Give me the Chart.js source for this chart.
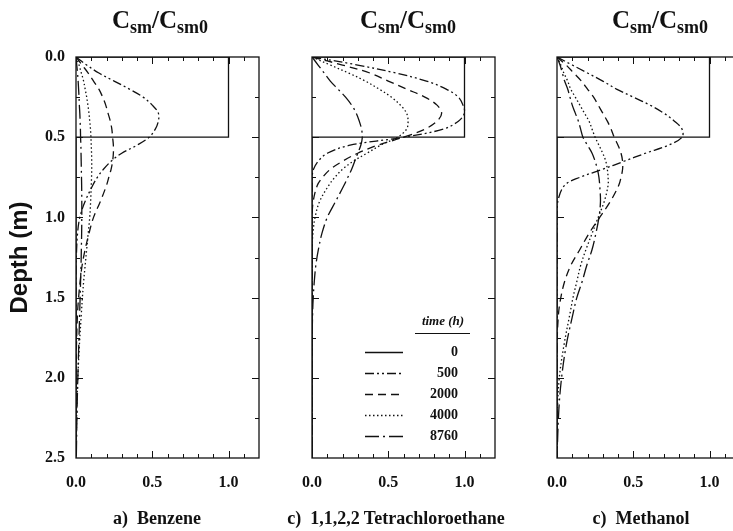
<!DOCTYPE html>
<html>
<head>
<meta charset="utf-8">
<script src="https://cdn.jsdelivr.net/npm/chart.js@4.4.1/dist/chart.umd.min.js"></script>
<style>
  html, body { margin: 0; padding: 0; background: #fff; }
  body { position: relative; width: 733px; height: 531px; overflow: hidden; }
  canvas.panel { position: absolute; top: 0; }
  .ttl { position: absolute; top: 6px; transform: translateX(-50%); white-space: nowrap;
         font: bold 25px "Liberation Serif", serif; color: #111; line-height: 28px; }
  .ttl sub { font-size: 18px; vertical-align: -5px; line-height: 0; }
  .cap { position: absolute; top: 508px; transform: translateX(-50%); white-space: pre;
         font: bold 18px "Liberation Serif", serif; color: #111; line-height: 20px; }
</style>
</head>
<body>
<canvas id="p0" class="panel"></canvas>
<canvas id="p1" class="panel"></canvas>
<canvas id="p2" class="panel"></canvas>

<div class="ttl" style="left:160px">C<sub>sm</sub>/C<sub>sm0</sub></div>
<div class="ttl" style="left:408px">C<sub>sm</sub>/C<sub>sm0</sub></div>
<div class="ttl" style="left:660px">C<sub>sm</sub>/C<sub>sm0</sub></div>
<div class="cap" id="cap0" style="left:157px"></div>
<div class="cap" id="cap1" style="left:396px"></div>
<div class="cap" id="cap2" style="left:641px"></div>

<script>
// depth below surface (m), shared by all profiles
const depth = [0, 0.05, 0.1, 0.15, 0.2, 0.25, 0.3, 0.35, 0.4, 0.45, 0.5, 0.55, 0.6, 0.65, 0.7, 0.75,
               0.8, 0.9, 1.0, 1.1, 1.2, 1.3, 1.4, 1.5, 1.6, 1.8, 2.0, 2.2, 2.5];

// initial condition (t = 0): uniform in the top 0.5 m
const stepC = [0, 1, 1, 0, 0];
const stepD = [0, 0, 0.5, 0.5, 2.5];

const timeLabels = ['0', '500', '2000', '4000', '8760'];

// Csm/Csm0 profiles - benzene
const bz500  = [0, .07, .15, .25, .35, .44, .5, .54, .54, .52, .48, .4, .3, .23, .18, .14, .11, .06, .025, .01, .004, 0, 0, 0, 0, 0, 0, 0, 0];
const bz2000 = [0, .04, .08, .115, .15, .175, .195, .21, .225, .235, .24, .245, .245, .24, .23, .215, .2, .16, .115, .085, .06, .04, .027, .017, .01, .003, 0, 0, 0];
const bz4000 = [0, .02, .035, .05, .06, .07, .078, .085, .09, .095, .098, .1, .102, .103, .103, .102, .1, .096, .09, .08, .07, .06, .05, .042, .035, .022, .012, .005, .001];
const bz8760 = [0, .005, .01, .014, .017, .02, .022, .025, .027, .029, .03, .032, .033, .034, .035, .036, .037, .038, .038, .037, .035, .033, .03, .027, .024, .018, .012, .007, .002];

// 1,1,2,2 tetrachloroethane
const tc500  = [0, .3, .55, .75, .88, .96, .99, 1.0, .96, .86, .6, .25, .1, .04, .01, 0, 0, 0, 0, 0, 0, 0, 0, 0, 0, 0, 0, 0, 0];
const tc2000 = [0, .2, .38, .5, .62, .74, .82, .85, .82, .74, .6, .43, .3, .2, .12, .07, .035, .008, 0, 0, 0, 0, 0, 0, 0, 0, 0, 0, 0];
const tc4000 = [0, .12, .24, .35, .44, .52, .58, .62, .63, .62, .56, .45, .36, .27, .2, .15, .11, .05, .02, .006, 0, 0, 0, 0, 0, 0, 0, 0, 0];
const tc8760 = [0, .04, .08, .12, .17, .22, .26, .29, .31, .325, .33, .32, .3, .28, .26, .235, .21, .155, .1, .065, .042, .025, .015, .008, .004, 0, 0, 0, 0];

// methanol
const me500  = [0, .1, .2, .3, .39, .5, .61, .7, .77, .82, .82, .73, .58, .44, .3, .15, .05, .005, 0, 0, 0, 0, 0, 0, 0, 0, 0, 0, 0];
const me2000 = [0, .06, .11, .16, .2, .24, .27, .3, .33, .355, .375, .4, .42, .43, .43, .42, .405, .35, .28, .21, .15, .09, .05, .025, .01, 0, 0, 0, 0];
const me4000 = [0, .025, .045, .07, .09, .12, .15, .18, .21, .23, .25, .275, .3, .32, .33, .335, .335, .31, .27, .23, .19, .155, .13, .105, .085, .045, .015, .003, 0];
const me8760 = [0, .02, .035, .05, .07, .085, .1, .12, .14, .155, .17, .2, .23, .25, .265, .275, .28, .285, .275, .255, .23, .195, .165, .13, .105, .06, .03, .012, 0];

const xTicks = [0, 0.5, 1.0];
const yTicks = [0, 0.5, 1.0, 1.5, 2.0, 2.5];
const captions = ['a)  Benzene', 'c)  1,1,2,2 Tetrachloroethane', 'c)  Methanol'];

const dashes = [[], [9, 3, 2, 3, 2, 3], [8, 5], [1.5, 2.5], [14, 4, 2, 4]];
const INK = '#111';
const serif = 'Liberation Serif';

function buildSets(curves) {
  return timeLabels.map((lab, i) => ({
    label: lab,
    data: i === 0
      ? stepC.map((c, k) => ({ x: c, y: stepD[k] }))
      : depth.map((d, k) => ({ x: curves[i - 1][k], y: d })),
    showLine: true,
    borderColor: INK,
    borderWidth: 1.3,
    borderDash: dashes[i],
    tension: i === 0 ? 0 : 0.35,
    pointRadius: 0,
    fill: false,
  }));
}

// box around the plot with inward ticks on all four sides
const frame = {
  id: 'frame',
  afterDatasetsDraw(chart) {
    const { ctx, chartArea: a, scales: { x, y } } = chart;
    ctx.save();
    ctx.strokeStyle = INK;
    ctx.lineWidth = 1.3;
    ctx.strokeRect(a.left, a.top, a.right - a.left, a.bottom - a.top);
    ctx.lineWidth = 1;
    ctx.beginPath();
    for (let i = 1; i < 12; i++) {
      const px = Math.round(x.getPixelForValue(i / 10)) + 0.5;
      const len = i % 5 === 0 ? 7 : 4;
      ctx.moveTo(px, a.bottom); ctx.lineTo(px, a.bottom - len);
      ctx.moveTo(px, a.top); ctx.lineTo(px, a.top + len);
    }
    for (let i = 1; i < 10; i++) {
      const py = Math.round(y.getPixelForValue(i * 0.25)) + 0.5;
      const len = i % 2 === 0 ? 7 : 4;
      ctx.moveTo(a.left, py); ctx.lineTo(a.left + len, py);
      ctx.moveTo(a.right, py); ctx.lineTo(a.right - len, py);
    }
    ctx.stroke();
    ctx.restore();
  },
};

// key for the time steps, drawn inside the middle panel
const timeKey = {
  id: 'timeKey',
  afterDraw(chart) {
    const { ctx, chartArea: a } = chart;
    ctx.save();
    ctx.fillStyle = INK;
    ctx.strokeStyle = INK;
    ctx.textBaseline = 'middle';
    ctx.font = `italic bold 13px "${serif}"`;
    ctx.textAlign = 'center';
    ctx.fillText('time (h)', a.left + 131, a.top + 265);
    ctx.lineWidth = 1;
    ctx.beginPath();
    ctx.moveTo(a.left + 103, a.top + 276.5);
    ctx.lineTo(a.left + 158, a.top + 276.5);
    ctx.stroke();

    ctx.font = `bold 14px "${serif}"`;
    ctx.textAlign = 'right';
    chart.data.datasets.forEach((ds, i) => {
      const yy = a.top + 295 + i * 21;
      ctx.lineWidth = ds.borderWidth;
      ctx.setLineDash(ds.borderDash);
      ctx.beginPath();
      ctx.moveTo(a.left + 53, yy + 0.5);
      ctx.lineTo(a.left + 91, yy + 0.5);
      ctx.stroke();
      ctx.setLineDash([]);
      ctx.fillText(ds.label, a.left + 146, yy);
    });
    ctx.restore();
  },
};

function makePanel(idx, left, axisW, curves, withDepth) {
  const canvas = document.getElementById('p' + idx);
  const plotW = 183;
  canvas.width = axisW + plotW + 12;
  canvas.height = 531;
  canvas.style.left = left + 'px';
  document.getElementById('cap' + idx).textContent = captions[idx];

  return new Chart(canvas, {
    type: 'scatter',
    data: { datasets: buildSets(curves) },
    plugins: idx === 1 ? [frame, timeKey] : [frame],
    options: {
      responsive: false,
      animation: false,
      events: [],
      layout: { padding: { top: 57, bottom: 38, left: 0, right: 12 } },
      plugins: { legend: { display: false }, tooltip: { enabled: false } },
      scales: {
        x: {
          type: 'linear',
          min: 0,
          max: 1.2,
          afterBuildTicks: s => { s.ticks = xTicks.map(v => ({ value: v })); },
          afterFit: s => { s.height = 35; },
          grid: { display: false, drawTicks: false },
          border: { display: false },
          ticks: {
            padding: 15,
            color: INK,
            autoSkip: false,
            maxRotation: 0,
            font: { family: serif, weight: 'bold', size: 16 },
            callback: v => v.toFixed(1),
          },
        },
        y: {
          type: 'linear',
          reverse: true,
          min: 0,
          max: 2.5,
          afterBuildTicks: s => { s.ticks = yTicks.map(v => ({ value: v })); },
          afterFit: s => { s.width = axisW; },
          grid: { display: false, drawTicks: false },
          border: { display: false },
          ticks: {
            display: withDepth,
            padding: 11,
            color: INK,
            font: { family: serif, weight: 'bold', size: 16 },
            callback: v => v.toFixed(1),
          },
          title: {
            display: withDepth,
            text: 'Depth (m)',
            color: INK,
            padding: { top: 6, bottom: 0 },
            font: { family: 'Liberation Sans', weight: 'bold', size: 24 },
          },
        },
      },
    },
  });
}

makePanel(0, 0, 76, [bz500, bz2000, bz4000, bz8760], true);
makePanel(1, 267, 45, [tc500, tc2000, tc4000, tc8760], false);
makePanel(2, 512, 45, [me500, me2000, me4000, me8760], false);
</script>
</body>
</html>
